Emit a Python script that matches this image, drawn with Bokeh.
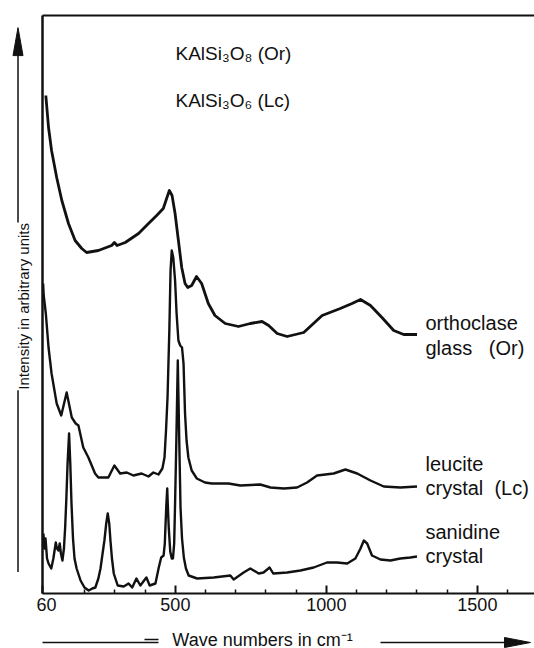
import numpy as np
from bokeh.plotting import figure
from bokeh.layouts import column, row
from bokeh.models import LinearAxis, FixedTicker, Range1d, Label
from bokeh.embed import file_html
from bokeh.resources import INLINE

# Raman spectra: wavenumber (cm-1) and stacked intensity (arbitrary units)
or_glass_wn = [71, 80, 90, 107, 124, 146, 168, 190, 206, 245, 289, 298, 307, 334, 378,
               411, 438, 460, 471, 480, 489, 499, 510, 521, 532, 541, 554, 570, 587, 609,
               631, 665, 709, 748, 787, 809, 837, 870, 925, 986, 1046, 1085, 1113, 1146,
               1184, 1223, 1256, 1300]
or_glass_int = [498, 466, 443, 416, 393, 370, 353, 345, 341, 343, 348, 351, 348, 351, 360,
                370, 378, 385, 395, 403, 398, 380, 353, 326, 310, 306, 308, 317, 310, 290,
                278, 270, 267, 270, 272, 268, 260, 257, 261, 278, 285, 290, 294, 288,
                276, 263, 259, 259]

leucite_wn = [62, 64, 71, 80, 90, 107, 122, 140, 157, 170, 179, 195, 212, 234, 245,
              278, 298, 317, 339, 361, 388, 411, 427, 444, 457, 464, 469, 474, 477, 480,
              482, 484, 488, 493, 499, 504, 510, 516, 522, 527, 532, 537, 543, 554, 571,
              598, 620, 676, 715, 781, 815, 859, 903, 936, 969, 1024, 1063, 1102, 1146,
              1190, 1245, 1300]
leucite_int = [310, 298, 280, 246, 220, 190, 178, 201, 176, 170, 168, 146, 136, 120, 116,
               116, 128, 120, 121, 118, 120, 117, 121, 119, 125, 136, 163, 196, 230, 263,
               293, 323, 343, 336, 313, 280, 253, 248, 246, 230, 180, 153, 136, 123, 115,
               111, 110, 110, 108, 109, 106, 105, 106, 111, 118, 120, 124, 120, 113,
               107, 106, 107]

sanidine_wn = [63, 66, 70, 75, 80, 89, 96, 104, 108, 113, 117, 121, 126, 131, 135,
               139, 143, 148, 152, 156, 161, 166, 173, 186, 199, 213, 225, 235, 245, 252,
               258, 265, 271, 276, 281, 285, 290, 296, 309, 329, 345, 357, 371, 384, 394,
               404, 415, 434, 445, 453, 461, 465, 467, 470, 473, 475, 478, 483, 488, 492,
               496, 499, 503, 506, 508, 510, 513, 517, 522, 528, 535, 544, 572, 627, 682,
               693, 726, 748, 776, 792, 812, 824, 870, 914, 958, 1002, 1035, 1069, 1096,
               1113, 1124, 1135, 1151, 1179, 1212, 1245, 1278, 1300]
sanidine_int = [60, 45, 55, 35, 30, 25, 35, 51, 45, 43, 50, 40, 33, 45, 66,
                95, 130, 160, 130, 90, 55, 35, 25, 13, 6, 3, 5, 6, 15, 25,
                38, 53, 70, 80, 70, 53, 35, 20, 8, 7, 10, 6, 15, 8, 12,
                16, 8, 10, 26, 36, 38, 50, 66, 88, 105, 88, 66, 42, 35, 35,
                50, 90, 150, 200, 233, 200, 150, 86, 55, 36, 25, 18, 15, 16, 18,
                14, 21, 25, 20, 21, 26, 20, 21, 23, 26, 31, 31, 30, 35,
                45, 53, 50, 38, 34, 33, 35, 36, 37]

major_ticks = [60, 500, 1000, 1500]
minor_ticks = [200, 300, 400, 600, 700, 800, 900, 1100, 1200, 1300, 1400, 1600]

x_title = "Wave numbers in cm\u207b\u00b9"
y_title = "Intensity in arbitrary units"
formula_or = "KAlSi\u2083O\u2088 (Or)"
formula_lc = "KAlSi\u2083O\u2086 (Lc)"
NB = "\u00a0"
names = [("orthoclase", 322), ("glass" + NB * 3 + "(Or)", 347),
         ("leucite", 463), ("crystal" + NB * 2 + "(Lc)", 487),
         ("sanidine", 531), ("crystal", 555)]

FONT = "Liberation Sans"
INK = "#111111"

# page pieces: a strip on the left (y title), the spectra panel, a strip below (x title)
STRIP_W = 36
MAIN_W, MAIN_H = 498, 620
PAD_L, PAD_T, PAD_B = 6, 15, 27
FRAME_L = STRIP_W + PAD_L          # page column of the frame's left edge
X0 = 60
X1 = X0 + (MAIN_W - PAD_L) / 0.302
Y0, Y1 = 0, MAIN_H - PAD_T - PAD_B
FRAME_B = PAD_T + Y1               # page row of the frame's bottom edge


def plain(width, height):
    f = figure(width=width, height=height, x_range=Range1d(0, width),
               y_range=Range1d(0, height), output_backend="svg",
               toolbar_location=None, x_axis_location=None, y_axis_location=None,
               min_border=0)
    f.outline_line_color = None
    f.grid.visible = False
    f.background_fill_color = "white"
    f.border_fill_color = "white"
    return f


main = figure(width=MAIN_W, height=MAIN_H, x_range=Range1d(X0, X1),
              y_range=Range1d(Y0, Y1), output_backend="svg", toolbar_location=None,
              x_axis_location=None, y_axis_location=None,
              min_border_left=PAD_L, min_border_right=0,
              min_border_top=PAD_T, min_border_bottom=PAD_B)
main.outline_line_color = None
main.grid.visible = False
main.background_fill_color = "white"
main.border_fill_color = "white"

# bottom axis with inward ticks
xaxis = LinearAxis(ticker=FixedTicker(ticks=major_ticks, minor_ticks=minor_ticks))
xaxis.axis_line_width = 2
xaxis.axis_line_color = INK
xaxis.major_tick_in = 8
xaxis.major_tick_out = 0
xaxis.minor_tick_in = 4
xaxis.minor_tick_out = 0
xaxis.major_tick_line_width = 2
xaxis.minor_tick_line_width = 1.5
xaxis.major_tick_line_color = INK
xaxis.minor_tick_line_color = INK
xaxis.major_label_text_font = FONT
xaxis.major_label_text_font_size = "18px"
xaxis.major_label_text_color = INK
xaxis.major_label_standoff = 4
main.add_layout(xaxis, "below")

# plain frame lines on the left and top
for side, lw in (("left", 2.5), ("above", 2)):
    ax = LinearAxis(ticker=FixedTicker(ticks=[]))
    ax.axis_line_width = lw
    ax.axis_line_color = INK
    ax.major_tick_line_color = None
    ax.minor_tick_line_color = None
    ax.major_label_text_font_size = "0px"
    ax.major_label_standoff = 0
    ax.major_tick_out = 0
    main.add_layout(ax, side)

# spectra
for wn, inten, lw in ((or_glass_wn, or_glass_int, 2.8),
                      (leucite_wn, leucite_int, 2.4),
                      (sanidine_wn, sanidine_int, 2.4)):
    main.line(wn, inten, line_width=lw, line_color=INK, line_join="round")


def mx(page_x):
    return X0 + (page_x - FRAME_L) * (X1 - X0) / (MAIN_W - PAD_L)


def my(page_y):
    return Y0 + (FRAME_B - page_y)


# spectrum names
for text, py in names:
    main.add_layout(Label(x=mx(425), y=my(py), text=text, text_font=FONT,
                          text_font_size="20px", text_color=INK,
                          text_baseline="middle", text_align="left"))

for text, py in ((formula_or, 53), (formula_lc, 100)):
    main.add_layout(Label(x=mx(175), y=my(py), text=text, text_font=FONT,
                          text_font_size="19px", text_color=INK,
                          text_baseline="middle", text_align="left"))

# left strip: upward arrow broken by the y title
left = plain(STRIP_W, MAIN_H)
ax_x = 17.5
left.segment(x0=[ax_x, ax_x], y0=[MAIN_H - 597, MAIN_H - 222],
             x1=[ax_x, ax_x], y1=[MAIN_H - 402, MAIN_H - 40],
             line_width=1.5, line_color=INK)
left.patch([ax_x, ax_x - 5, ax_x + 5], [MAIN_H - 13, MAIN_H - 43, MAIN_H - 43],
           fill_color=INK, line_color=INK)
left.add_layout(Label(x=23, y=MAIN_H - 312, text=y_title, text_font=FONT,
                      text_font_size="15px", text_color=INK, angle=np.pi / 2,
                      text_align="center", text_baseline="middle"))

# bottom strip: rightward arrow broken by the x title
BOT_H = 648 - MAIN_H
bottom = plain(MAIN_W + STRIP_W, BOT_H)
ar_y = 648 - 642
bottom.segment(x0=[42, 144, 380], y0=[ar_y, ar_y + 3, ar_y],
               x1=[158, 158, 508], y1=[ar_y, ar_y + 3, ar_y],
               line_width=1.5, line_color=INK)
bottom.patch([530, 504, 504], [ar_y, ar_y + 5, ar_y - 5], fill_color=INK, line_color=INK)
bottom.add_layout(Label(x=262, y=648 - 639, text=x_title, text_font=FONT,
                        text_font_size="18px", text_color=INK,
                        text_align="center", text_baseline="middle"))

page = column(row(left, main, spacing=0), bottom, spacing=0)
open("out.html", "w").write(file_html(page, INLINE))
